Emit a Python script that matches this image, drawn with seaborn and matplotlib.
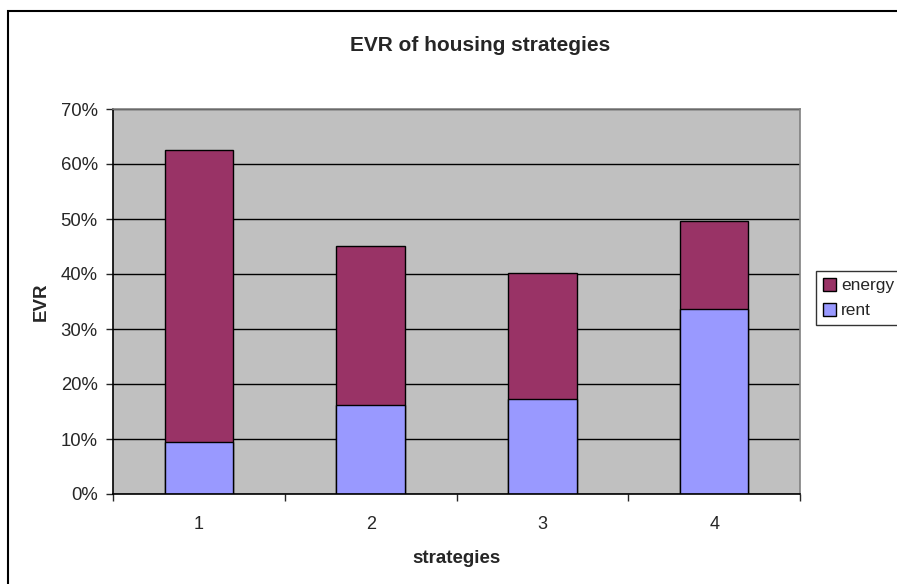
import matplotlib
matplotlib.use("Agg")
import matplotlib.pyplot as plt
import seaborn as sns
import pandas as pd
from matplotlib.patches import Patch, Rectangle
from matplotlib.ticker import FixedLocator, PercentFormatter

# Data
strategies = ["1", "2", "3", "4"]
rent = [9.4, 16.2, 17.3, 33.6]
energy = [53.1, 28.9, 22.9, 16.0]
total = [r + e for r, e in zip(rent, energy)]

df = pd.DataFrame({"strategy": strategies, "rent": rent, "total": total})

sns.set_style("white")
plt.rcParams["font.family"] = ["Liberation Sans", "DejaVu Sans"]

W, H = 897, 584
fig = plt.figure(figsize=(W / 100, H / 100), dpi=100)

# outer chart frame (runs off the right and bottom edges)
fig.patches.append(Rectangle((8 / W, -0.05), 1.0, 1 - 11 / H + 0.05, transform=fig.transFigure,
                             fill=False, edgecolor="black", linewidth=1.5, clip_on=False))

ax = fig.add_axes([113 / W, (H - 494) / H, 687 / W, 385 / H])
ax.set_facecolor("#C0C0C0")

sns.barplot(data=df, x="strategy", y="total", color="#993366", width=0.4,
            edgecolor="black", linewidth=1, saturation=1, ax=ax)
sns.barplot(data=df, x="strategy", y="rent", color="#9999FF", width=0.4,
            edgecolor="black", linewidth=1, saturation=1, ax=ax)

ax.set_ylim(0, 70)
ax.set_xlim(-0.5, 3.5)
ax.set_yticks(range(0, 71, 10))
ax.yaxis.set_major_formatter(PercentFormatter(decimals=0))
ax.yaxis.grid(True, color="black", linewidth=1)
ax.set_axisbelow(True)

ax.xaxis.set_minor_locator(FixedLocator([-0.5, 0.5, 1.5, 2.5, 3.5]))
ax.tick_params(axis="x", which="major", length=0, pad=16, labelsize=13)
ax.tick_params(axis="x", which="minor", length=5, width=1, direction="out", bottom=True)
ax.tick_params(axis="y", length=5, width=1, direction="out", left=True, labelsize=13.3, pad=6)

for s in ["top", "right"]:
    ax.spines[s].set_color("#808080")
    ax.spines[s].set_linewidth(1.2)
for s in ["left", "bottom"]:
    ax.spines[s].set_color("black")
    ax.spines[s].set_linewidth(1.2)

# the title is centred on the whole chart area, which extends past the right edge
ax.set_title("EVR of housing strategies", fontsize=15, fontweight="bold", pad=42, x=0.534)
ax.set_xlabel("strategies", fontsize=13.5, fontweight="bold", labelpad=12)
ax.set_ylabel("EVR", fontsize=13.5, fontweight="bold", labelpad=8)

handles = [Patch(facecolor="#993366", edgecolor="black", label="energy"),
           Patch(facecolor="#9999FF", edgecolor="black", label="rent")]
fig.legend(handles=handles, loc="upper left", bbox_to_anchor=(816 / W, 1 - 271 / H),
           frameon=True, fancybox=False, edgecolor="black", fontsize=12.5,
           handlelength=0.75, handleheight=0.75, handletextpad=0.3, borderpad=0.4,
           labelspacing=0.55, borderaxespad=0)

fig.savefig("out.png", dpi=100)
